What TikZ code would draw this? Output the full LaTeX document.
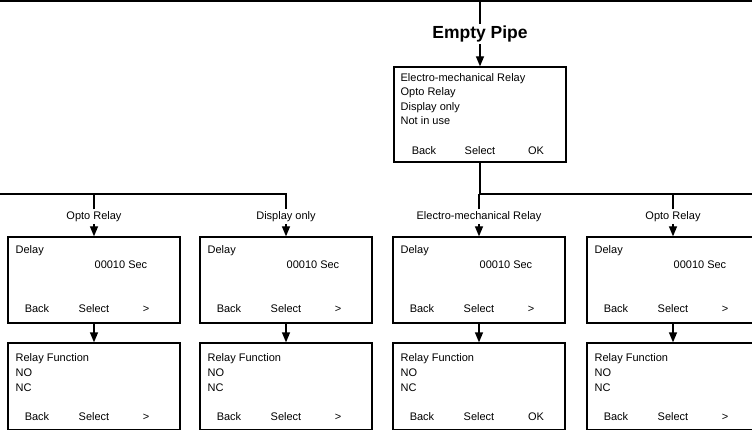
\documentclass[tikz,border=0pt]{standalone}
\usepackage{fontspec}
\setmainfont{Liberation Sans}
\usetikzlibrary{arrows.meta,positioning}
\begin{document}
\begin{tikzpicture}[x=1pt,y=-1pt,font=\fontsize{11}{13}\selectfont,line width=1.3pt,
  screen/.style={draw,minimum width=172pt,minimum height=86pt,inner sep=0pt},
  txt/.style={inner sep=0pt,anchor=base west},
  key/.style={inner sep=0pt,anchor=base},
  branch/.style={inner sep=1.5pt,anchor=base},
  arr/.style={-{Triangle[width=8pt,length=10pt]}}]
\useasboundingbox(0,0)rectangle(752,430);
% top of the menu
\coordinate(top)at(480,1);
\draw[line width=2pt](0,1)--(752,1);
\node[branch,font=\fontsize{17.5}{19}\bfseries](head)at(480,38.5){Empty Pipe};
\draw(top)--(top|-head.north);
\node[screen,minimum height=95pt](menu)at(480,114.5){};
\draw[arr](head.south)--(menu.north);
\node[txt](m1)at(400,81.5){Electro-mechanical Relay};
\node[txt](m2)at(400,96){Opto Relay};
\node[txt](m3)at(400,110.5){Display only};
\node[txt](m4)at(400,124.5){Not in use};
\node[key](mb)at(424,155){Back};\node[key](ms)at(480,155){Select};\node[key](mo)at(536,155){OK};
% delay and relay function screens
\foreach \cx/\lbl/\ok/\okx[count=\i] in {94/Opto Relay/>/52,286/Display only/>/52,479/Electro-mechanical Relay/OK/57,673/Opto Relay/>/52}{
  \node[branch](lab\i)at(\cx,219.5){\lbl};
  \node[screen](d\i)at(\cx,280){};
  \draw[arr](lab\i.south)--(d\i.north);
  \node[txt]at(\cx-79,254){Delay};
  \node[txt]at(\cx,269){00010 Sec};
  \node[key]at(\cx-57,312.5){Back};\node[key]at(\cx,312.5){Select};\node[key]at(\cx+52,312.5){>};
  \node[screen,minimum height=87pt](r\i)at(\cx,386.5){};
  \draw[arr](d\i.south)--(r\i.north);
  \node[txt]at(\cx-79,361.5){Relay Function};
  \node[txt]at(\cx-79,376.5){NO};
  \node[txt]at(\cx-79,391){NC};
  \node[key]at(\cx-57,420){Back};\node[key]at(\cx,420){Select};\node[key]at(\cx+\okx,420){\ok};
}
% branch lines
\coordinate(lbus)at(0,194);\coordinate(rbus)at(752,194);
\draw(lbus)-|(lab2.north);
\draw(lab1.north)--(lab1.north|-lbus);
\draw(menu.south)|-(rbus);
\draw(lab3.north)--(lab3.north|-rbus);
\draw(lab4.north)--(lab4.north|-rbus);
\end{tikzpicture}
\end{document}
